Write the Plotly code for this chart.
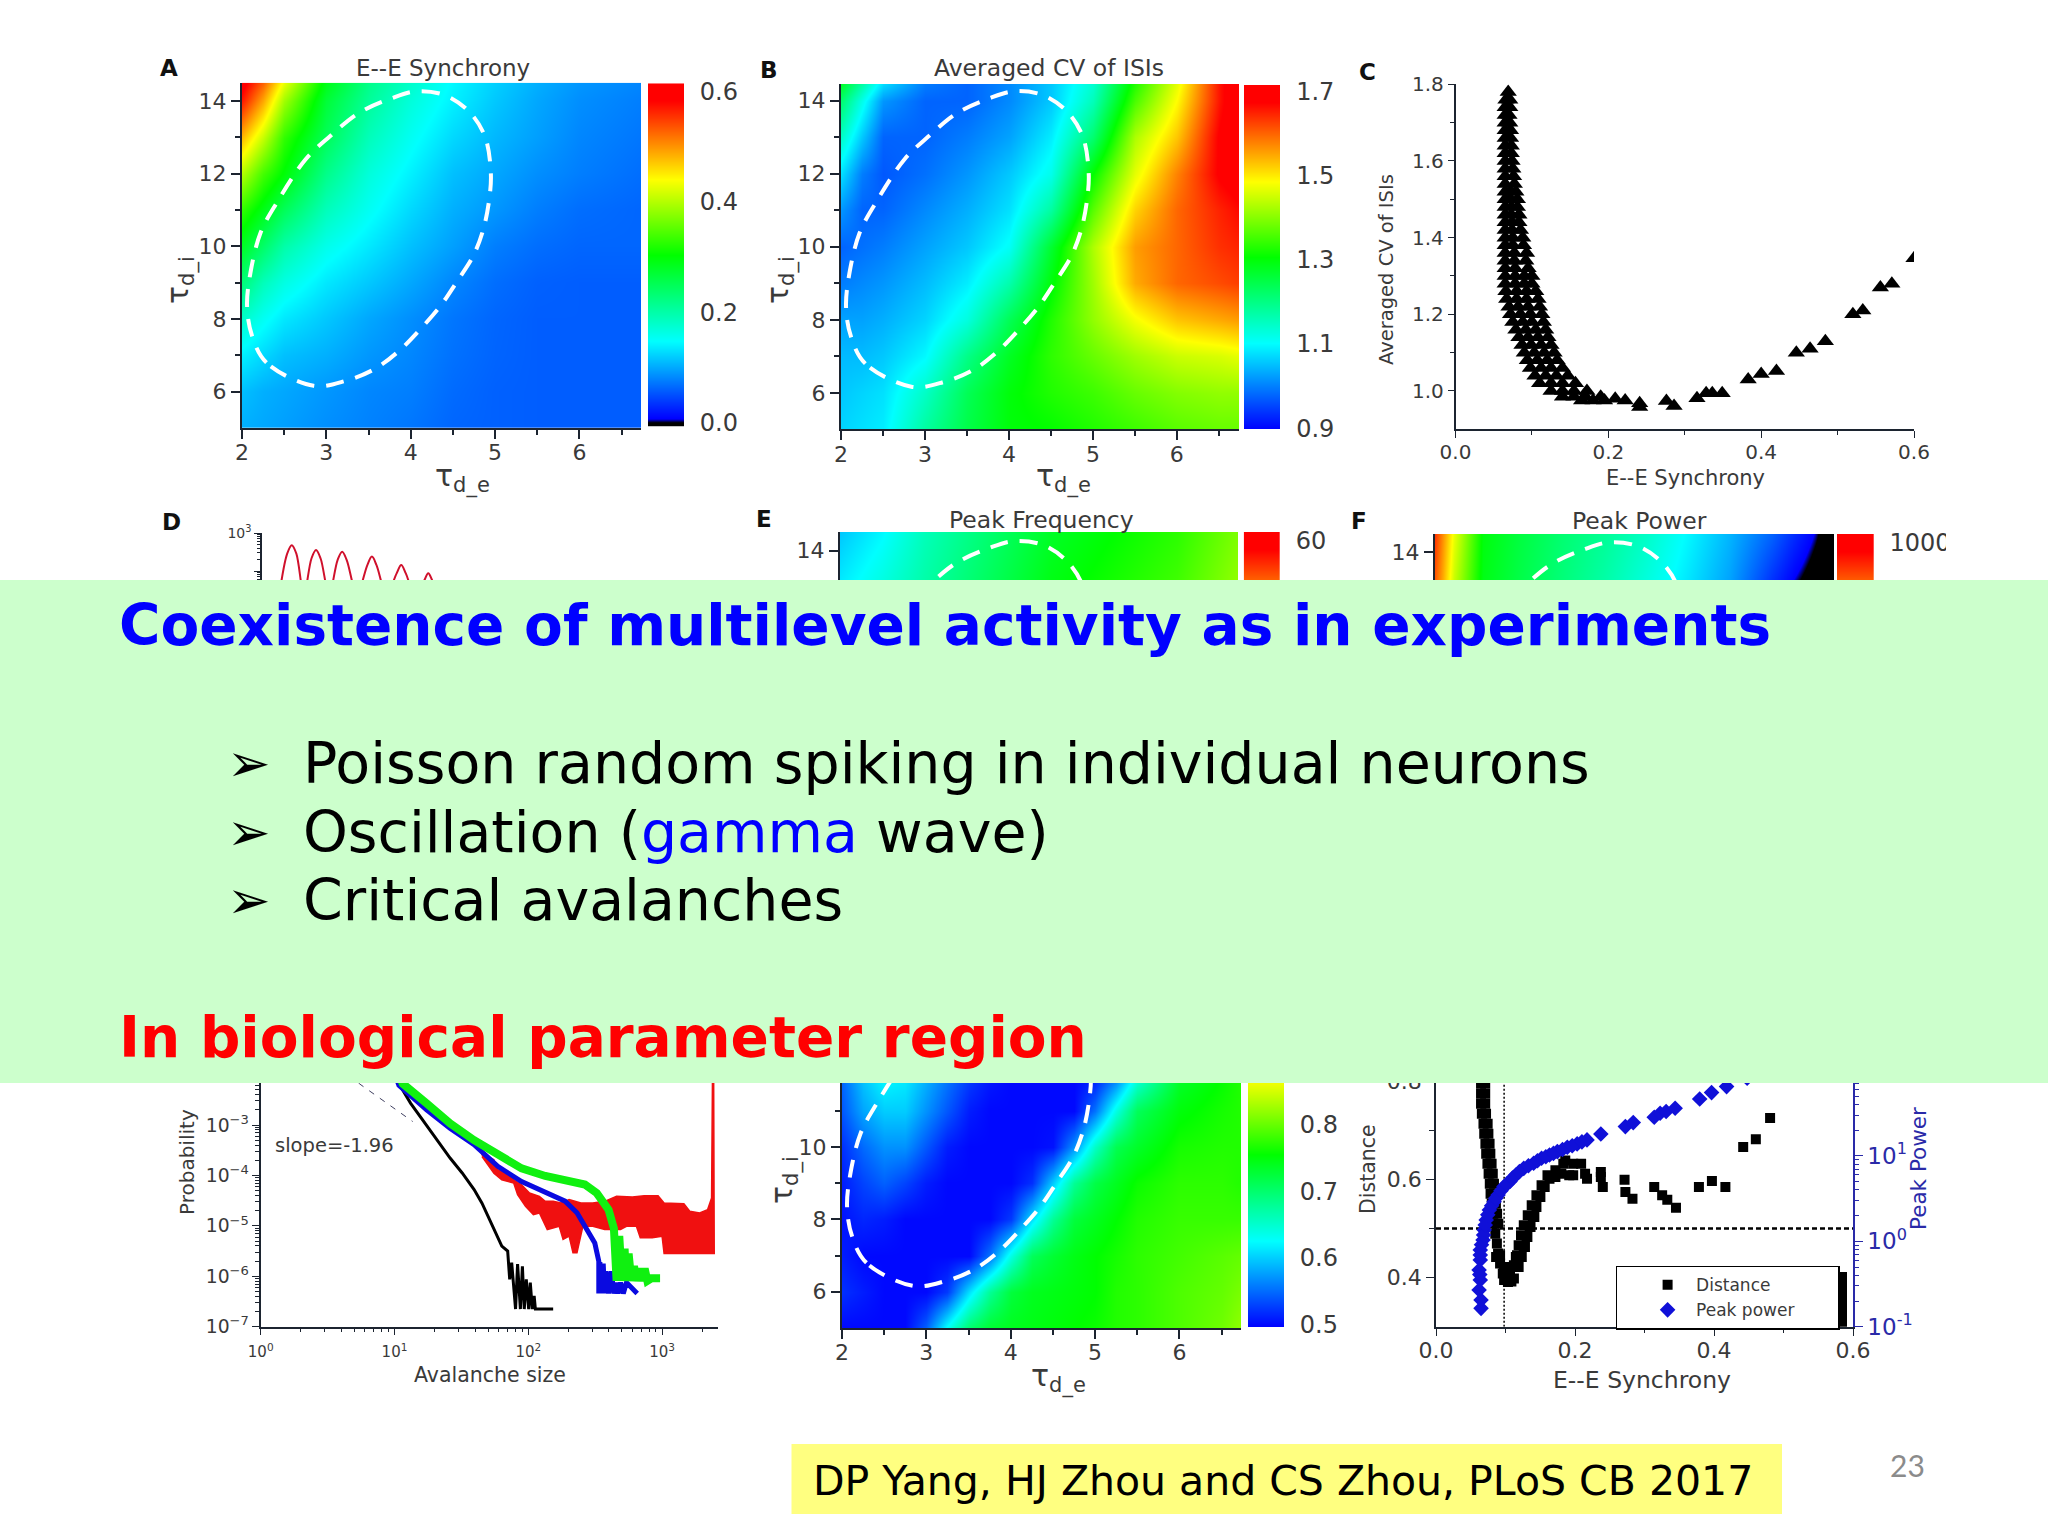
import numpy as np
import plotly.graph_objects as go

W, H = 2048, 1536
FONT = "DejaVu Sans"
AXIS = "#1c2430"
TXT = "#3a3a3a"
BLUE_AX = "#2a2aa8"

# panels A, B, G: tau_d_e columns / tau_d_i rows
sync_x = [2, 2.25, 2.5, 3, 3.5, 4, 4.5, 5, 5.5, 6, 6.73]
tau_i = [5, 6, 7, 8, 9, 10, 11, 12, 13, 14, 14.5]
sync_z = [
    [.10, .095, .09, .08, .072, .065, .055, .052, .05, .05, .05],
    [.11, .10, .095, .085, .075, .07, .058, .052, .05, .05, .05],
    [.14, .125, .11, .10, .085, .075, .062, .054, .05, .05, .05],
    [.18, .155, .135, .115, .095, .08, .065, .055, .05, .05, .05],
    [.23, .19, .165, .135, .115, .095, .075, .06, .052, .05, .05],
    [.28, .24, .20, .16, .135, .11, .09, .07, .06, .055, .055],
    [.33, .29, .25, .19, .155, .125, .10, .085, .07, .06, .055],
    [.40, .34, .30, .22, .17, .14, .11, .095, .08, .07, .06],
    [.48, .41, .33, .25, .19, .155, .125, .105, .09, .075, .065],
    [.57, .49, .39, .27, .21, .17, .14, .115, .095, .08, .07],
    [.60, .53, .43, .29, .22, .18, .145, .12, .10, .085, .075],
]

cv_x = [2, 2.25, 2.5, 3, 3.5, 4, 4.5, 5, 5.5, 6, 6.5, 6.74]
cv_z = [
    [1.07, 1.08, 1.09, 1.18, 1.25, 1.30, 1.31, 1.33, 1.35, 1.37, 1.38, 1.38],
    [1.06, 1.07, 1.08, 1.15, 1.24, 1.30, 1.33, 1.35, 1.38, 1.40, 1.41, 1.41],
    [1.05, 1.05, 1.06, 1.10, 1.20, 1.28, 1.34, 1.38, 1.42, 1.45, 1.46, 1.47],
    [1.03, 1.03, 1.04, 1.07, 1.13, 1.24, 1.33, 1.41, 1.48, 1.53, 1.55, 1.56],
    [1.00, 1.01, 1.02, 1.05, 1.09, 1.17, 1.30, 1.42, 1.55, 1.60, 1.62, 1.63],
    [.98, .99, 1.00, 1.03, 1.06, 1.11, 1.27, 1.43, 1.56, 1.60, 1.64, 1.65],
    [1.02, .98, .98, 1.01, 1.04, 1.08, 1.18, 1.37, 1.52, 1.60, 1.65, 1.67],
    [1.08, 1.00, .97, .99, 1.02, 1.06, 1.12, 1.31, 1.47, 1.58, 1.68, 1.70],
    [1.15, 1.06, .98, .98, 1.00, 1.03, 1.09, 1.22, 1.43, 1.53, 1.68, 1.71],
    [1.22, 1.12, 1.02, .98, .98, 1.01, 1.06, 1.16, 1.36, 1.49, 1.66, 1.72],
    [1.28, 1.18, 1.08, 1.00, .98, 1.01, 1.06, 1.14, 1.33, 1.47, 1.66, 1.72],
]

freq_x = [2, 2.5, 3, 3.5, 4, 4.5, 5, 5.5, 6, 6.73]
strip_y = [12.6, 14.5]
freq_z = [
    [30, 32, 34, 36, 38, 40, 41, 42, 43, 46],
    [28, 30, 33, 35, 37, 39, 40, 41, 42, 45],
]

power_x = [2, 2.1, 2.22, 2.57, 3, 3.5, 4, 4.5, 5, 5.5, 6, 6.25, 6.5, 6.73]
power_log_z = [
    [2.5, 2.2, 1.7, .95, .75, .55, .35, .12, -.1, -.35, -.82, -1.0, -1.1, -1.1],
    [2.7, 2.35, 1.88, 1.0, .8, .6, .45, .25, 0, -.25, -.55, -.75, -.92, -1.1],
]

dist_x = [2, 2.25, 2.5, 2.75, 3, 3.25, 3.5, 3.75, 4, 4.25, 4.5, 4.75, 5, 5.25, 5.5, 6, 6.5, 6.73]
dist_y = [5, 6, 7, 8, 9, 10, 11, 12.1]
dist_z = [
    [.50, .50, .50, .50, .545, .63, .70, .73, .74, .745, .75, .755, .76, .77, .775, .79, .805, .82],
    [.52, .51, .50, .50, .50, .525, .61, .68, .725, .74, .745, .75, .755, .77, .775, .79, .80, .81],
    [.51, .50, .50, .50, .50, .50, .50, .555, .64, .71, .73, .745, .755, .765, .775, .785, .795, .80],
    [.505, .515, .51, .50, .50, .50, .50, .50, .525, .61, .68, .725, .74, .755, .77, .78, .78, .78],
    [.51, .53, .545, .53, .51, .50, .50, .50, .50, .52, .60, .68, .72, .74, .76, .775, .775, .77],
    [.52, .55, .57, .57, .54, .51, .50, .50, .50, .50, .505, .57, .655, .715, .735, .765, .77, .77],
    [.54, .58, .60, .60, .57, .54, .51, .50, .50, .50, .50, .50, .555, .64, .71, .75, .765, .77],
    [.55, .60, .63, .62, .59, .56, .53, .51, .50, .50, .50, .50, .50, .54, .625, .73, .755, .77],
]

# dashed white region drawn on every map
region_x = [2.85, 2.29, 2.12, 2.06, 2.10, 2.22, 2.41, 2.75, 3.04, 3.38, 3.77, 4.06, 4.40,
            4.69, 4.88, 4.95, 4.93, 4.86, 4.74, 4.54, 4.35, 4.11, 3.86, 3.57, 3.23, 2.85]
region_y = [6.16, 6.80, 7.53, 8.35, 9.27, 10.37, 11.19, 12.38, 13.02, 13.66, 14.07, 14.26, 14.16,
            13.71, 13.02, 12.01, 11.28, 10.46, 9.73, 9.0, 8.35, 7.71, 7.12, 6.62, 6.30, 6.16]

# panel C: dense band by CV level, then the loose points
c_band_cv = [1.78, 1.76, 1.74, 1.72, 1.70, 1.68, 1.66, 1.64, 1.62, 1.60, 1.58, 1.56, 1.54, 1.52, 1.50, 1.48, 1.46, 1.44,
             1.42, 1.40, 1.38, 1.36, 1.34, 1.32, 1.30, 1.28, 1.26, 1.24, 1.22, 1.20, 1.18, 1.16, 1.14, 1.12, 1.10, 1.08,
             1.06, 1.04, 1.02, 1.00, .985, .975]
c_band_sync = [[.069], [.066, .071], [.065, .071], [.065, .070], [.065, .071], [.065, .072], [.065, .072], [.065, .073],
               [.065, .073], [.065, .074], [.065, .075], [.065, .076], [.065, .077], [.065, .072, .079], [.065, .072, .081],
               [.065, .073, .081], [.065, .073, .083], [.065, .074, .083], [.065, .074, .085], [.065, .075, .088],
               [.065, .075, .089], [.065, .077, .093], [.065, .077, .092], [.065, .078, .095], [.065, .078, .090, .100],
               [.065, .078, .090, .100], [.066, .080, .093, .105], [.067, .080, .093, .108], [.070, .082, .095, .110],
               [.072, .085, .098, .113], [.075, .088, .100, .115], [.079, .092, .105, .118], [.083, .095, .108, .121],
               [.087, .099, .112, .125], [.090, .103, .116, .129], [.094, .107, .120, .133], [.098, .112, .125, .140],
               [.104, .118, .132, .147], [.110, .125, .140, .157], [.125, .14, .155, .172], [.14, .155, .17, .19],
               [.165, .18, .195, .222]]
c_loose_sync = [.209, .241, .241, .276, .286, .316, .328, .336, .349, .383, .40, .42, .446, .464, .484, .52, .533, .556, .571, .60]
c_loose_cv = [.98, .968, .958, .974, .961, .981, .994, .994, .994, 1.03, 1.044, 1.052, 1.10, 1.11, 1.13, 1.20, 1.21, 1.27, 1.28, 1.346]

# panel D, upper spectrum
spec_f = [3.8, 5.5, 6.5, 7.5, 9.15, 10.8, 11.8, 12.8, 14.65, 16.5, 17.5, 18.5, 20.75, 23, 24, 25, 27.2, 29.4, 30.4, 31.4,
          33.35, 35.3, 36.3, 37.3, 39]
spec_p = [25, 288, 480, 288, 25, 214, 357, 214, 25, 194, 324, 194, 25, 144, 240, 144, 25, 87, 145, 87, 25, 53, 88, 53, 25]

# panel D, avalanche size distributions (log10)
black_log_s = [1.033, 1.121, 1.21, 1.328, 1.417, 1.506, 1.595, 1.654, 1.698, 1.757, 1.802, 1.846, 1.861, 1.876,
               1.905, 1.92, 1.941, 1.956, 1.97, 1.985, 2.003, 2.015, 2.03, 2.044, 2.053, 2.186]
black_log_p = [-2.18, -2.57, -2.90, -3.33, -3.66, -3.95, -4.28, -4.55, -4.81, -5.14, -5.40, -5.50, -6.06, -5.73,
               -6.65, -5.76, -6.65, -5.8, -6.65, -6.06, -6.65, -6.125, -6.65, -6.39, -6.65, -6.65]
blue_log_s = [.95, 1.033, 1.24, 1.417, 1.595, 1.772, 1.95, 2.127, 2.275, 2.364, 2.423, 2.497, 2.527, 2.527, 2.535,
              2.545, 2.56, 2.57, 2.58, 2.60, 2.62, 2.64, 2.66, 2.67, 2.69, 2.71, 2.734, 2.814]
blue_log_p = [-1.6, -2.21, -2.70, -3.07, -3.39, -3.82, -4.12, -4.32, -4.51, -4.74, -5.01, -5.34, -5.70, -6.34, -5.72,
              -6.34, -5.75, -6.34, -5.9, -6.34, -5.9, -6.34, -6.125, -6.34, -6.125, -6.34, -6.125, -6.34]
green_log_s = [.97, 1.062, 1.24, 1.417, 1.595, 1.772, 1.95, 2.127, 2.305, 2.423, 2.512, 2.60, 2.64, 2.66, 2.68, 2.70,
               2.72, 2.73, 2.75, 2.77, 2.79, 2.81, 2.83, 2.85, 2.87, 2.89, 2.92, 2.985]
green_log_p = [-1.6, -2.18, -2.57, -2.97, -3.30, -3.59, -3.86, -4.01, -4.10, -4.18, -4.35, -4.68, -5.05, -6.09, -5.2, -6.09,
               -5.45, -6.09, -5.55, -6.09, -5.8, -6.09, -5.85, -6.09, -5.85, -6.09, -6.04, -6.04]
red_top_s = [1.639, 1.683, 1.743, 1.772, 1.831, 1.891, 1.95, 2.009, 2.083, 2.127, 2.186, 2.246, 2.305, 2.393, 2.482,
             2.571, 2.66, 2.778, 2.867, 2.97, 3.015, 3.163, 3.207, 3.281, 3.340, 3.37, 3.378, 3.385]
red_top_p = [-3.526, -3.592, -3.691, -3.888, -3.954, -4.086, -4.184, -4.349, -4.414, -4.513, -4.513, -4.546, -4.48, -4.546,
             -4.546, -4.513, -4.414, -4.428, -4.401, -4.401, -4.546, -4.559, -4.711, -4.743, -4.678, -4.447, -1.6, -1.6]
red_low_s = [3.39, 3.015, 3.0, 2.926, 2.837, 2.808, 2.734, 2.689, 2.571, 2.482, 2.408, 2.364, 2.334, 2.305, 2.26,
             2.231, 2.142, 2.083, 2.038, 1.979, 1.92, 1.891, 1.802, 1.743, 1.654]
red_low_p = [-5.546, -5.546, -5.204, -5.237, -5.237, -5.007, -5.007, -5.072, -5.072, -5.007, -5.007, -5.533, -5.533, -5.204,
             -5.27, -5.007, -5.072, -4.743, -4.776, -4.612, -4.382, -4.151, -4.086, -3.954, -3.625]
slope_log_s = [.65, .737, 1.136]
slope_log_p = [-1.7, -2.18, -2.93]
decades = [1, 10, 100, 1000]
decade_labels = ["10<sup>0</sup>", "10<sup>1</sup>", "10<sup>2</sup>", "10<sup>3</sup>"]

# panel H
h_sync = [.0648, .0648, .0648, .066, .0683, .0694, .0711, .0722, .074, .0757, .0774, .0785, .0802, .0819, .0836, .0853,
          .0876, .0893, .0922, .0961, .1035, .1121, .1189, .1234, .1263, .1303, .1348, .1394, .1445, .1502, .1564,
          .1633, .1718, .1832, .1121, .1064, .1166, .1189, .1223, .1263, .132, .1377, .1445, .1519, .1604, .1718,
          .1803, .1917, .0865, .0978, .186, .1974, .2088, .1974, .2145, .2173, .2372, .2372, .24, .2713, .2725,
          .2827, .314, .3254, .3328, .3453, .3783, .397, .4164, .442, .4602, .4807,
          .0708, .0708, .0708, .072, .0743, .0754, .0771, .0782, .08, .0817, .0834, .0845, .0862, .0879, .0896,
          .0922, .1035, .1149, .1064, .1085, .098, .128, .1315, .136, .1415]
h_dist = [.7946, .7742, .7539, .7336, .7132, .6929, .6725, .6522, .6319, .6115, .5912, .5708, .5505, .5302, .5098, .4895,
          .4692, .4488, .4285, .4081, .3912, .398, .4217, .442, .4624, .4827, .5031, .5234, .5437, .5641, .5844,
          .6014, .6183, .6319, .4251, .4149, .4454, .4658, .4861, .5064, .5268, .5471, .5675, .5878, .6081, .6047,
          .6115, .6081, .442, .4217, .6386, .6319, .6319, .6081, .6115, .6014, .6149, .6047, .5844, .5993, .5742,
          .5607, .5844, .5675, .5586, .5424, .5844, .5966, .5844, .6658, .6814, .7247,
          .7946, .7742, .7539, .7336, .7132, .6929, .6725, .6522, .6319, .6115, .5912, .5708, .5505, .5302, .5098,
          .4454, .4217, .442, .4081, .392, .395, .4624, .4827, .5031, .5234]
h_power_sync = [.0648, .0648, .062, .0637, .062, .0637, .0637, .0677, .0694, .0722, .0768, .0836, .0893, .0978, .1064, .1149,
                .1263, .1405, .1519, .1633, .1746, .1889, .2031, .2173, .2372, .2725, .2838, .314, .3225, .3311, .3441,
                .3794, .3965, .4181, .4477,
                .063, .0637, .0655, .0685, .0708, .0745, .08, .086, .0935, .102, .11, .12, .133, .146, .158, .169, .182, .196, .21]
h_power_log = [-.785, -.6875, -.57, -.453, -.336, -.219, -.102, .016, .133, .25, .367, .465, .543, .641, .70, .777,
               .855, .914, .973, 1.012, 1.051, 1.102, 1.141, 1.188, 1.258, 1.344, 1.391, 1.453, 1.50, 1.52, 1.559,
               1.668, 1.742, 1.8125, 1.91,
               -.39, -.16, -.04, .075, .19, .31, .416, .504, .592, .67, .74, .816, .885, .943, .99, 1.03, 1.075, 1.12, 1.165]
dist_level = [.5, .5]
sync_level = [.098, .098]

JET = [[0, "#0000ff"], [.25, "#00ffff"], [.5, "#00ff00"], [.72, "#ffff00"], [.95, "#ff0000"], [1, "#ff0000"]]
JET_BLACK = [[0, "#000000"], [.012, "#000000"], [.022, "#0000ff"], [.25, "#00ffff"], [.5, "#00ff00"],
             [.72, "#ffff00"], [.95, "#ff0000"], [1, "#ff0000"]]

fig = go.Figure()
layout = {}


def make_axes(n, px_x, px_y, xopts, yopts):
    common = dict(showgrid=False, zeroline=False, automargin=False)
    layout["xaxis%d" % n] = dict(domain=[px_x[0] / W, px_x[1] / W], anchor="y%d" % n, **common, **xopts)
    layout["yaxis%d" % n] = dict(domain=[1 - px_y[1] / H, 1 - px_y[0] / H], anchor="x%d" % n, **common, **yopts)


def tau_xaxis(hi):
    return dict(range=[2, hi], showline=True, linecolor=AXIS, linewidth=2, ticks="outside", ticklen=9,
                tickwidth=2, tickcolor=AXIS, tickvals=[2, 3, 4, 5, 6], tickfont=dict(family=FONT, size=22, color=TXT),
                ticklabelstandoff=-5,
                minor=dict(tickmode="array", tickvals=[2.5, 3.5, 4.5, 5.5, 6.5], ticks="outside", ticklen=5,
                           tickwidth=2, tickcolor=AXIS))


def tau_yaxis(lo, hi):
    return dict(range=[lo, hi], showline=True, linecolor=AXIS, linewidth=2, ticks="outside", ticklen=9,
                tickwidth=2, tickcolor=AXIS, tickvals=[6, 8, 10, 12, 14], tickfont=dict(family=FONT, size=22, color=TXT),
                minor=dict(tickmode="array", tickvals=[7, 9, 11, 13], ticks="outside", ticklen=5,
                           tickwidth=2, tickcolor=AXIS))


def add_map(n, px_x, px_y, x, y, z, zmin, zmax, x_hi, y_lo, y_hi, scale=JET):
    make_axes(n, px_x, px_y, tau_xaxis(x_hi), tau_yaxis(y_lo, y_hi))
    fig.add_trace(go.Heatmap(x=x, y=y, z=z, zmin=zmin, zmax=zmax, colorscale=scale, zsmooth="best",
                             showscale=False, xaxis="x%d" % n, yaxis="y%d" % n))
    fig.add_trace(go.Scatter(x=region_x, y=region_y, mode="lines", showlegend=False, xaxis="x%d" % n, yaxis="y%d" % n,
                             line=dict(color="white", width=4, dash="18px,12px", shape="spline")))


def add_bar(n, px_x, px_y, levels, zmin, zmax, ticks, labels, scale=JET):
    make_axes(n, px_x, px_y, dict(range=[0, 1], visible=False),
              dict(range=[levels[0], levels[-1]], side="right", showline=False, ticks="outside", ticklen=10,
                   tickcolor="rgba(0,0,0,0)", tickvals=ticks, ticktext=labels,
                   tickfont=dict(family=FONT, size=24, color=TXT)))
    fig.add_trace(go.Heatmap(x=[0, 1], y=levels, z=[[v, v] for v in levels], zmin=zmin, zmax=zmax, colorscale=scale,
                             zsmooth="best", showscale=False, xaxis="x%d" % n, yaxis="y%d" % n))


# A
add_map(1, (242, 641), (82.7, 428), sync_x, tau_i, sync_z, -.007, .615, 6.73, 5, 14.5)
add_bar(2, (648, 684), (83.3, 426.7), [-.007, .15, .3, .45, .615], -.007, .615,
        [0, .2, .4, .6], ["0.0", "0.2", "0.4", "0.6"], JET_BLACK)
# B
add_map(3, (841, 1239), (84, 429.3), cv_x, tau_i, cv_z, .9, 1.716, 6.74, 5, 14.46)
add_bar(4, (1244, 1280.4), (85, 429), [.898, 1.1, 1.3, 1.5, 1.716], .898, 1.716,
        [.9, 1.1, 1.3, 1.5, 1.7], ["0.9", "1.1", "1.3", "1.5", "1.7"])

# C
c_x = list(c_loose_sync)
c_y = list(c_loose_cv)
for level, row in zip(c_band_cv, c_band_sync):
    c_x += row
    c_y += [level] * len(row)
make_axes(5, (1455.5, 1914), (84.3, 429.3),
          dict(range=[0, .6], showline=True, linecolor=AXIS, linewidth=1.5, ticks="outside", ticklen=7, tickcolor=AXIS,
               tickvals=[0, .2, .4, .6], ticktext=["0.0", "0.2", "0.4", "0.6"], ticklabelstandoff=-3,
               tickfont=dict(family=FONT, size=20, color=TXT),
               minor=dict(tickmode="array", tickvals=[.1, .3, .5], ticks="outside", ticklen=4, tickcolor=AXIS)),
          dict(range=[.9, 1.8], showline=True, linecolor=AXIS, linewidth=1.5, ticks="outside", ticklen=6, tickcolor=AXIS,
               tickvals=[1.0, 1.2, 1.4, 1.6, 1.8], ticktext=["1.0", "1.2", "1.4", "1.6", "1.8"],
               tickfont=dict(family=FONT, size=20, color=TXT),
               minor=dict(tickmode="array", tickvals=[1.1, 1.3, 1.5, 1.7], ticks="outside", ticklen=4, tickcolor=AXIS)))
fig.add_trace(go.Scatter(x=c_x, y=c_y, mode="markers", showlegend=False, xaxis="x5", yaxis="y5",
                         marker=dict(symbol="triangle-up", size=15, color="black")))

# D upper
make_axes(6, (262, 720), (533, 600), dict(range=[0, 100], visible=False),
          dict(type="log", range=[1.24, 3], showline=True, linecolor=AXIS, linewidth=1.5, ticks="outside", ticklen=6,
               tickcolor=AXIS, tickvals=[100, 1000], ticktext=["", "10<sup>3</sup>"],
               tickfont=dict(family=FONT, size=14, color=TXT),
               minor=dict(dtick="D1", ticks="outside", ticklen=3, tickcolor=AXIS)))
fig.add_trace(go.Scatter(x=spec_f, y=spec_p, mode="lines", showlegend=False, xaxis="x6", yaxis="y6",
                         line=dict(color="#d0102c", width=2, shape="spline")))

# D lower
make_axes(7, (260.7, 718), (1060, 1326.7),
          dict(type="log", range=[0, 3.418], showline=True, linecolor=AXIS, linewidth=1.5, ticks="outside", ticklen=7,
               tickcolor=AXIS, tickvals=decades, ticktext=decade_labels, ticklabelstandoff=4,
               tickfont=dict(family=FONT, size=15, color=TXT),
               minor=dict(dtick="D1", ticks="outside", ticklen=4, tickcolor=AXIS)),
          dict(type="log", range=[-7, -1.71], showline=True, linecolor=AXIS, linewidth=1.5, ticks="outside", ticklen=7,
               tickcolor=AXIS, dtick=1, exponentformat="power", showexponent="all",
               tickfont=dict(family=FONT, size=15, color=TXT),
               minor=dict(dtick="D1", ticks="outside", ticklen=4, tickcolor=AXIS)))
fig.add_trace(go.Scatter(x=10 ** np.array(red_top_s + red_low_s), y=10 ** np.array(red_top_p + red_low_p), mode="lines",
                         fill="toself", fillcolor="#f01010", line=dict(color="#f01010", width=1.5), showlegend=False,
                         xaxis="x7", yaxis="y7"))
fig.add_trace(go.Scatter(x=10 ** np.array(slope_log_s), y=10 ** np.array(slope_log_p), mode="lines", showlegend=False,
                         xaxis="x7", yaxis="y7", line=dict(color="#404060", width=1, dash="6px,7px")))
fig.add_trace(go.Scatter(x=10 ** np.array(black_log_s), y=10 ** np.array(black_log_p), mode="lines", showlegend=False,
                         xaxis="x7", yaxis="y7", line=dict(color="black", width=3)))
fig.add_trace(go.Scatter(x=10 ** np.array(blue_log_s), y=10 ** np.array(blue_log_p), mode="lines", showlegend=False,
                         xaxis="x7", yaxis="y7", line=dict(color="#0a0ae0", width=5)))
fig.add_trace(go.Scatter(x=10 ** np.array(green_log_s), y=10 ** np.array(green_log_p), mode="lines", showlegend=False,
                         xaxis="x7", yaxis="y7", line=dict(color="#10f010", width=8)))

# E, F strips
add_map(8, (840, 1238), (532, 600), freq_x, strip_y, freq_z, 20, 61, 6.72, 12.64, 14.51)
add_bar(9, (1243.7, 1280), (532, 600), [53, 57, 61], 20, 61, [60], ["60"])
add_map(10, (1435, 1834), (534, 600), power_x, strip_y, power_log_z, -1, 3.1, 6.73, 12.68, 14.49, JET_BLACK)
add_bar(11, (1837, 1873.7), (534, 600), [2.32, 2.7, 3.1], -1, 3.1, [3], ["1000"], JET_BLACK)

# G
add_map(12, (842, 1241), (1060, 1328), dist_x, dist_y, dist_z, .496, 1.015, 6.73, 5, 12.4)
add_bar(13, (1248, 1284), (1060, 1327), [.496, .6, .7, .8, .897], .496, 1.015,
        [.5, .6, .7, .8], ["0.5", "0.6", "0.7", "0.8"])

# H
make_axes(14, (1436, 1853), (1060, 1326.7),
          dict(range=[0, .6], showline=True, linecolor=AXIS, linewidth=1.5, ticks="outside", ticklen=8, tickcolor=AXIS,
               tickvals=[0, .2, .4, .6], ticktext=["0.0", "0.2", "0.4", "0.6"], ticklabelstandoff=-5,
               tickfont=dict(family=FONT, size=22, color=TXT),
               minor=dict(tickmode="array", tickvals=[.1, .3, .5], ticks="outside", ticklen=5, tickcolor=AXIS)),
          dict(range=[.3, .843], showline=True, linecolor=AXIS, linewidth=1.5, ticks="outside", ticklen=8, tickcolor=AXIS,
               tickvals=[.4, .6, .8], ticktext=["0.4", "0.6", "0.8"], tickfont=dict(family=FONT, size=22, color=TXT),
               minor=dict(tickmode="array", tickvals=[.5, .7], ticks="outside", ticklen=5, tickcolor=AXIS)))
layout["yaxis15"] = dict(domain=[1 - 1326.7 / H, 1 - 1060 / H], overlaying="y14", anchor="x14", side="right", type="log",
                         range=[-1, 2.124], showgrid=False, zeroline=False, showline=True, linecolor=BLUE_AX, linewidth=1.5,
                         ticks="outside", ticklen=8, tickcolor=BLUE_AX, tickvals=[.1, 1, 10, 100],
                         ticktext=["10<sup>-1</sup>", "10<sup>0</sup>", "10<sup>1</sup>", "10<sup>2</sup>"],
                         tickfont=dict(family=FONT, size=23, color=BLUE_AX),
                         minor=dict(dtick="D1", ticks="outside", ticklen=4, tickcolor=BLUE_AX))
fig.add_trace(go.Scatter(x=[0, .6], y=dist_level, mode="lines", showlegend=False, xaxis="x14", yaxis="y14",
                         line=dict(color="black", width=2.5, dash="5px,3px")))
fig.add_trace(go.Scatter(x=sync_level, y=[.3, .85], mode="lines", showlegend=False, xaxis="x14", yaxis="y14",
                         line=dict(color="black", width=1.5, dash="2px,2px")))
fig.add_trace(go.Scatter(x=h_sync, y=h_dist, mode="markers", name="Distance", xaxis="x14", yaxis="y14",
                         marker=dict(symbol="square", size=10, color="black")))
# the trailing no-break spaces widen the legend box to the reference's size
fig.add_trace(go.Scatter(x=h_power_sync, y=10 ** np.array(h_power_log), mode="markers", name="Peak power" + "\u00a0" * 7,
                         xaxis="x14", yaxis="y15", marker=dict(symbol="diamond", size=12, color="#1010d8")))


def label(text, x, y, size, color=TXT, angle=0, anchor="center", weight=None, family=FONT):
    fig.add_annotation(text=text, x=x / W, y=1 - y / H, xref="paper", yref="paper", showarrow=False, xanchor=anchor,
                       yanchor="middle", textangle=angle, font=dict(family=family, size=size, color=color, weight=weight))


for letter, lx, ly in [("A", 169, 68), ("B", 769, 70), ("C", 1367, 72), ("D", 171, 522), ("E", 764, 519), ("F", 1359, 521)]:
    label(letter, lx, ly, 23, "#111111", weight="bold")

label("E--E Synchrony", 443, 68, 23)
label("Averaged CV of ISIs", 1049, 68, 23.5)
label("Peak Frequency", 1041, 520, 23.5)
label("Peak Power", 1639, 521, 23.5)
label("Averaged CV of ISIs", 1386, 270, 19.5, angle=-90)
label("E--E Synchrony", 1685, 478, 21)
label("E--E Synchrony", 1642, 1380, 23.5)
label("Avalanche size", 490, 1375, 20.5)
label("Probability", 187, 1162, 20, angle=-90)
label("slope=-1.96", 334, 1145, 19.5)
label("Distance", 1368, 1169, 20.5, angle=-90)
label("Peak Power", 1918, 1169, 21.5, BLUE_AX, angle=-90)
for tx, ty in [(180, 280), (784, 1180), (780, 280)]:
    label("τ<sub>d_i</sub>", tx, ty, 30, angle=-90)
for tx, ty in [(462, 478), (1063, 478), (1058, 1378)]:
    label("τ<sub>d_e</sub>", tx, ty, 30)

# slide banner and footer
BANNER = "#CCFFCC"
shapes = [
    dict(type="rect", xref="paper", yref="paper", x0=0, x1=1, y0=1 - 1083 / H, y1=1 - 580 / H,
         fillcolor=BANNER, line_width=0, layer="above"),
    dict(type="rect", xref="paper", yref="paper", x0=791.5 / W, x1=1782 / W, y0=1 - 1514 / H, y1=1 - 1444 / H,
         fillcolor="#FFFF80", line_width=0, layer="above"),
    dict(type="rect", xref="paper", yref="paper", x0=1946 / W, x1=1975 / W, y0=1 - 562 / H, y1=1 - 530 / H,
         fillcolor="white", line_width=0, layer="above"),
    dict(type="rect", xref="paper", yref="paper", x0=1622 / W, x1=1847 / W, y0=1 - 1326.7 / H, y1=1 - 1272 / H,
         fillcolor="black", line_width=0, layer="above"),
]

label("Coexistence of multilevel activity as in experiments", 116.5, 626, 56.5, "#0000FF", anchor="left", weight="bold")
label("In biological parameter region", 116.5, 1037, 56.5, "#FF0000", anchor="left", weight="bold")
for by in [763, 832, 900]:
    label("➢", 225, by, 52, "black", anchor="left", weight="bold")
label("Poisson random spiking in individual neurons", 301, 763, 57, "black", anchor="left")
label('Oscillation (<span style="color:#0000FF">gamma</span> wave)', 301, 832, 57, "black", anchor="left")
label("Critical avalanches", 301, 900, 57, "black", anchor="left")
label("DP Yang, HJ Zhou and CS Zhou, PLoS CB 2017", 811, 1481, 41, "black", anchor="left")
label("23", 1907.5, 1465, 30, "#8b8b8b", family="Lato")

fig.update_layout(
    width=W, height=H, autosize=False, margin=dict(l=0, r=0, t=0, b=0, autoexpand=False),
    paper_bgcolor="white", plot_bgcolor="rgba(0,0,0,0)", shapes=shapes,
    legend=dict(x=1615.6 / W, y=1 - 1265.7 / H, xanchor="left", yanchor="top", bgcolor="white", bordercolor="black",
                borderwidth=1.5, font=dict(family=FONT, size=17, color=TXT), indentation=22, itemwidth=47,
                tracegroupgap=0),
    **layout,
)
fig.write_html("out.html", config={"displayModeBar": False},
               post_script="document.body.style.margin='0';document.documentElement.style.overflow='hidden';")
